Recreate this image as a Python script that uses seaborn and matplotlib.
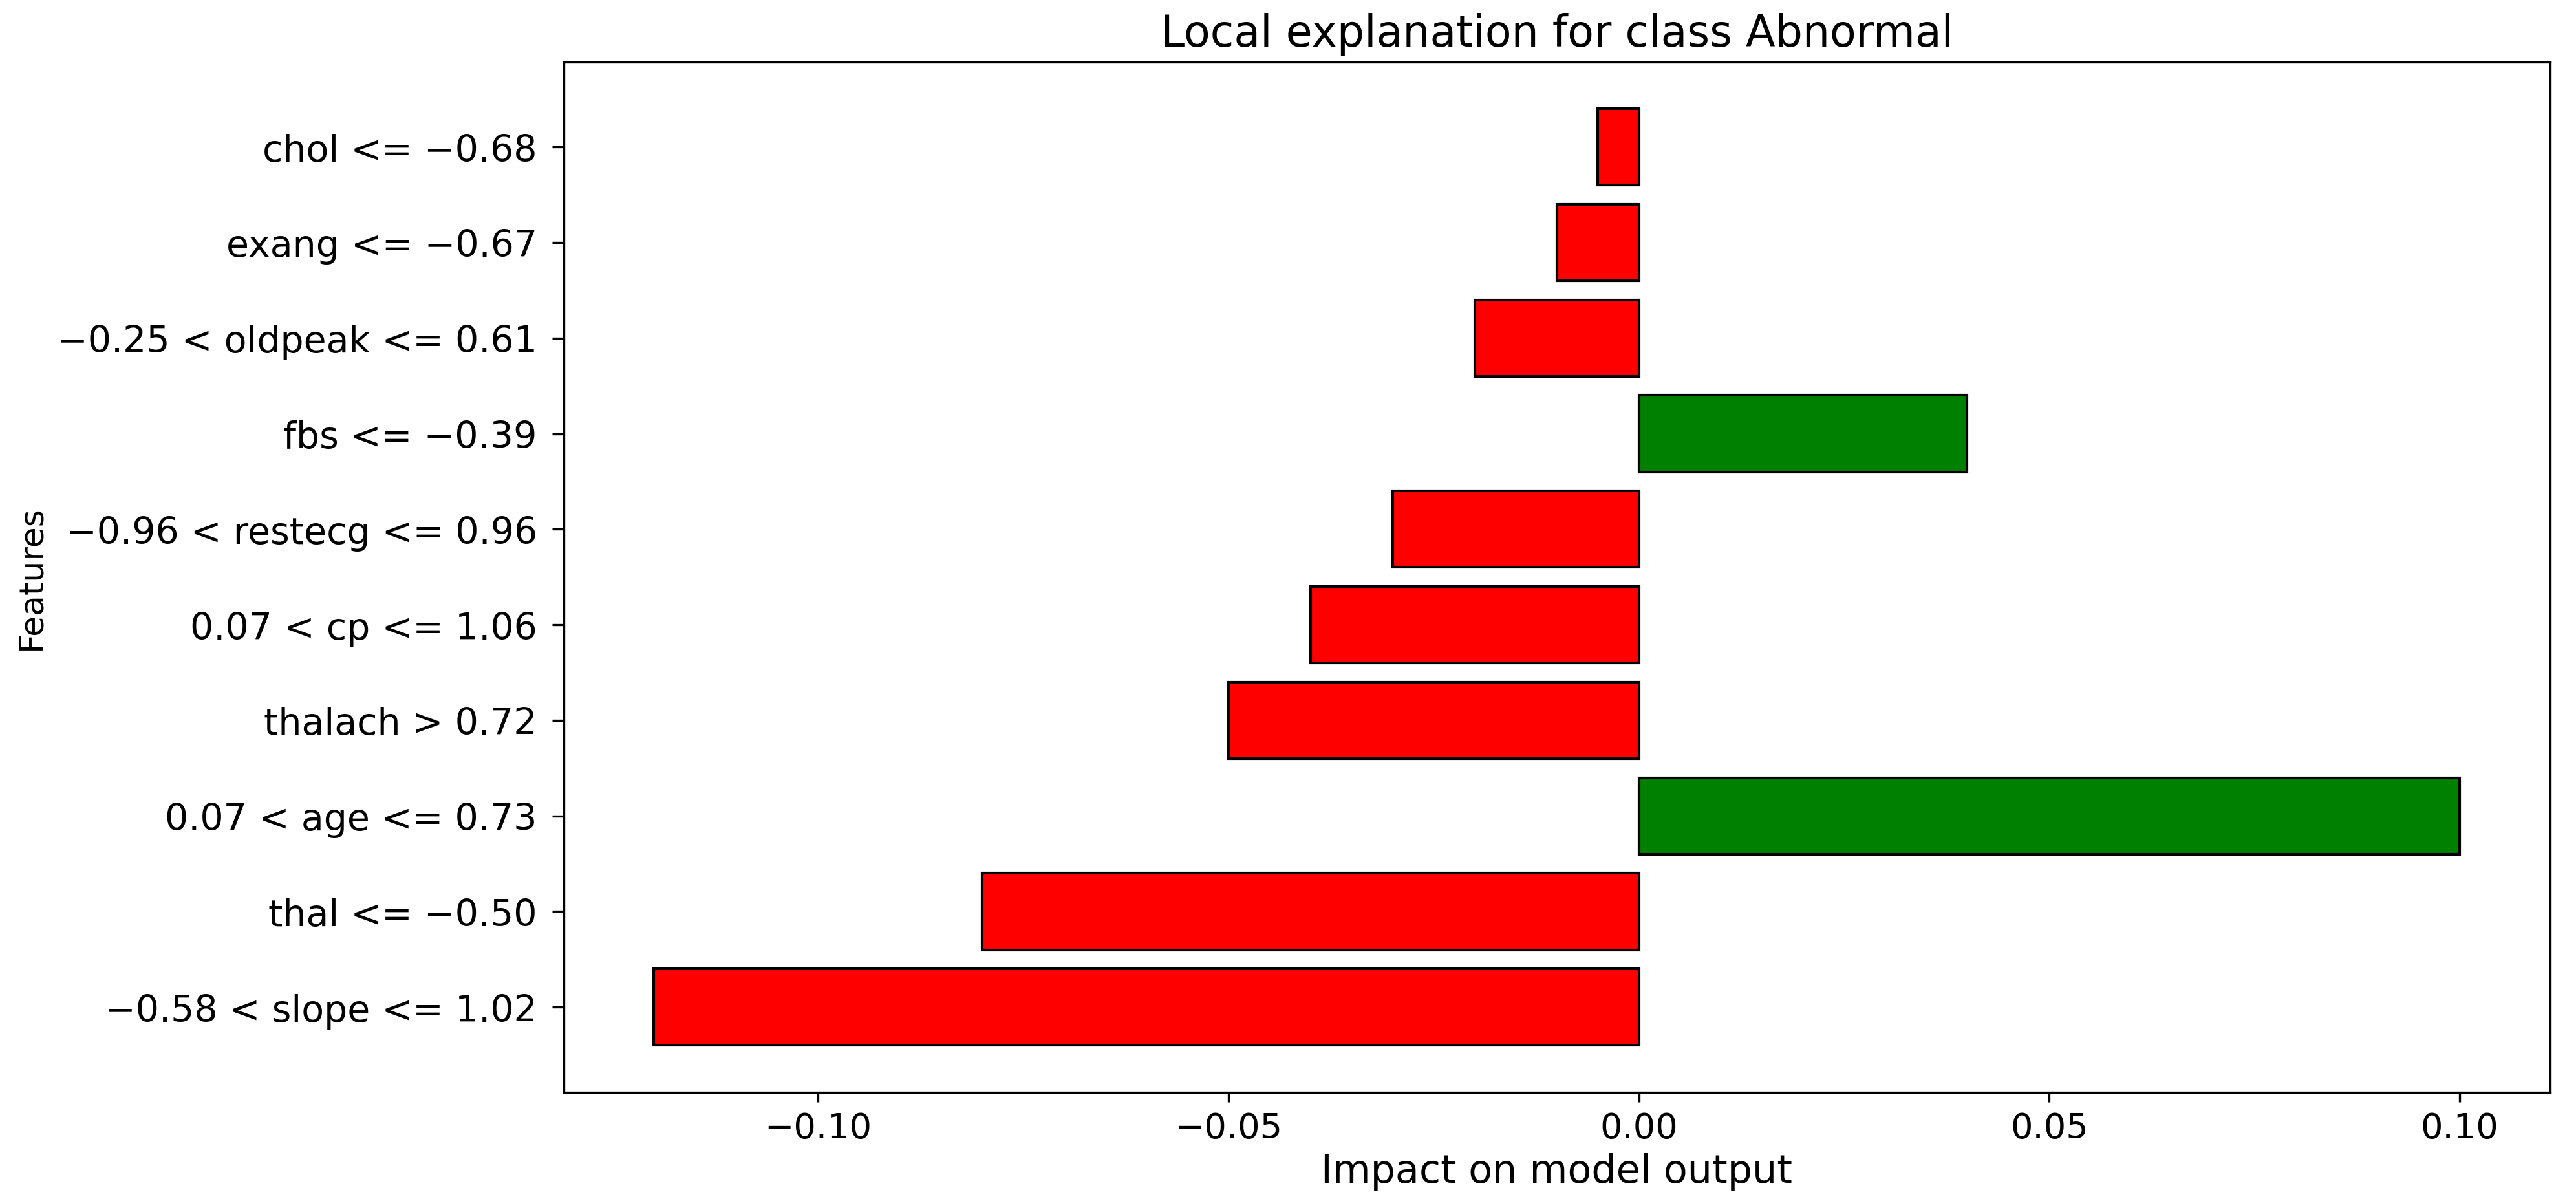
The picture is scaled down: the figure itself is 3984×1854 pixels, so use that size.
import matplotlib
matplotlib.use("Agg")
import matplotlib.pyplot as plt
import seaborn as sns
import pandas as pd

# Data (top to bottom)
features = [
    "chol <= \u22120.68",
    "exang <= \u22120.67",
    "\u22120.25 < oldpeak <= 0.61",
    "fbs <= \u22120.39",
    "\u22120.96 < restecg <= 0.96",
    "0.07 < cp <= 1.06",
    "thalach > 0.72",
    "0.07 < age <= 0.73",
    "thal <= \u22120.50",
    "\u22120.58 < slope <= 1.02",
]
impact = [-0.005, -0.01, -0.02, 0.04, -0.03, -0.04, -0.05, 0.10, -0.08, -0.12]
xticks = [-0.10, -0.05, 0.00, 0.05, 0.10]

df = pd.DataFrame({"Feature": features, "Impact": impact})
df["Sign"] = ["pos" if v > 0 else "neg" for v in df["Impact"]]

plt.rcParams["font.family"] = ["DejaVu Sans"]

fig = plt.figure(figsize=(13.28, 6.1833), dpi=300)
ax = fig.add_axes([0.2188, 0.0891, 0.9899 - 0.2188, 0.9479 - 0.0891])

sns.barplot(
    data=df, x="Impact", y="Feature", hue="Sign",
    palette={"pos": "green", "neg": "red"},
    dodge=False, legend=False, orient="h",
    edgecolor="black", linewidth=1.0, saturation=1, width=0.8, ax=ax,
)

# matplotlib-style margins on the category axis
n = len(features)
pad = 0.05 * (n - 1 + 0.8)
ax.set_ylim(n - 1 + 0.4 + pad, -0.4 - pad)
ax.set_xticks(xticks)
ax.set_xticklabels([f"{t:.2f}".replace("-", "\u2212") for t in xticks])

ax.tick_params(axis="y", labelsize=13.7, length=4.3, pad=5.5)
ax.tick_params(axis="x", labelsize=13)
ax.set_title("Local explanation for class Abnormal", fontsize=16, pad=6)
ax.set_xlabel("Impact on model output", fontsize=14.5, labelpad=3)
ax.set_ylabel("Features", fontsize=12.5)
ax.yaxis.set_label_coords(-0.26, 0.5)

fig.savefig("out.png", dpi=300)
